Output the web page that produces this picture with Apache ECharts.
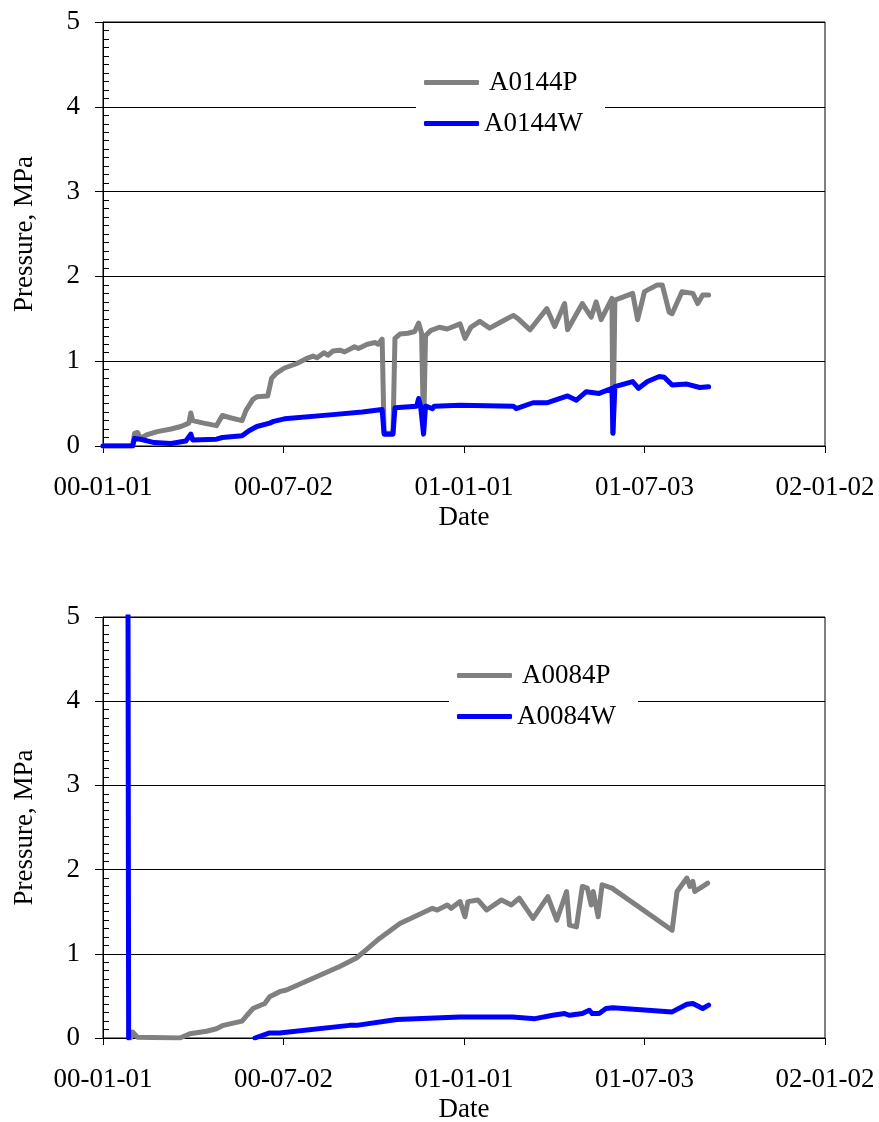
<!DOCTYPE html>
<html>
<head>
<meta charset="utf-8">
<script src="https://cdn.jsdelivr.net/npm/echarts@6/dist/echarts.min.js"></script>
<style>
html,body{margin:0;padding:0;background:#fff;}
#chart{width:879px;height:1122px;}
</style>
</head>
<body>
<div id="chart"></div>
<script>
// ---------- DATA ----------
const xTickLabels = ['00-01-01','00-07-02','01-01-01','01-07-03','02-01-02'];
const yTickValues = [0,1,2,3,4,5];

const topPName = 'A0144P';
const topWName = 'A0144W';
const botPName = 'A0084P';
const botWName = 'A0084W';

const topPDates = ['2000-01-01','2000-01-31','2000-02-02','2000-02-05','2000-02-08','2000-02-14','2000-02-25','2000-03-10','2000-03-20','2000-03-28','2000-03-30','2000-04-01','2000-04-12','2000-04-25','2000-05-01','2000-05-10','2000-05-21','2000-05-25','2000-06-01','2000-06-05','2000-06-16','2000-06-20','2000-06-25','2000-07-03','2000-07-15','2000-07-25','2000-08-01','2000-08-05','2000-08-12','2000-08-16','2000-08-21','2000-08-28','2000-09-02','2000-09-12','2000-09-16','2000-09-25','2000-10-03','2000-10-06','2000-10-10','2000-10-12','2000-10-21','2000-10-23','2000-10-28','2000-11-05','2000-11-12','2000-11-16','2000-11-19','2000-11-21','2000-11-23','2000-11-28','2000-12-07','2000-12-15','2000-12-28','2001-01-02','2001-01-08','2001-01-17','2001-01-27','2001-02-07','2001-02-20','2001-02-25','2001-03-09','2001-03-26','2001-04-03','2001-04-13','2001-04-16','2001-05-01','2001-05-10','2001-05-15','2001-05-20','2001-05-31','2001-06-01','2001-06-03','2001-06-05','2001-06-21','2001-06-26','2001-07-03','2001-07-16','2001-07-21','2001-07-28','2001-07-31','2001-08-10','2001-08-21','2001-08-26','2001-08-31','2001-09-06'];
const topPValues = [0,0,0.15,0.16,0.09,0.13,0.17,0.2,0.23,0.27,0.39,0.3,0.27,0.24,0.36,0.33,0.3,0.42,0.55,0.58,0.59,0.8,0.86,0.92,0.97,1.03,1.06,1.04,1.1,1.07,1.12,1.13,1.11,1.17,1.15,1.2,1.22,1.2,1.26,0.15,0.15,1.27,1.32,1.33,1.35,1.45,1.33,0.15,1.3,1.36,1.4,1.38,1.44,1.27,1.4,1.47,1.39,1.46,1.54,1.5,1.37,1.62,1.41,1.68,1.37,1.68,1.52,1.7,1.49,1.74,0.15,1.72,1.74,1.8,1.49,1.82,1.9,1.9,1.58,1.56,1.82,1.8,1.68,1.78,1.78];

const topWDates = ['2000-01-01','2000-01-31','2000-02-02','2000-02-08','2000-02-22','2000-03-10','2000-03-25','2000-03-30','2000-04-01','2000-04-25','2000-05-01','2000-05-21','2000-05-28','2000-06-05','2000-06-18','2000-06-22','2000-07-03','2000-08-21','2000-09-20','2000-10-10','2000-10-12','2000-10-21','2000-10-23','2000-11-14','2000-11-16','2000-11-18','2000-11-21','2000-11-23','2000-11-30','2000-12-02','2000-12-28','2001-02-20','2001-02-23','2001-03-12','2001-03-26','2001-04-16','2001-04-25','2001-05-05','2001-05-18','2001-05-31','2001-06-01','2001-06-03','2001-06-21','2001-06-27','2001-07-06','2001-07-18','2001-07-23','2001-07-31','2001-08-15','2001-08-28','2001-09-06'];
const topWValues = [0,0,0.09,0.08,0.04,0.03,0.06,0.14,0.07,0.08,0.1,0.12,0.18,0.23,0.27,0.29,0.32,0.37,0.4,0.43,0.14,0.14,0.45,0.47,0.56,0.47,0.14,0.47,0.44,0.47,0.48,0.47,0.44,0.51,0.51,0.59,0.54,0.64,0.62,0.68,0.15,0.7,0.76,0.68,0.76,0.82,0.81,0.72,0.73,0.69,0.7];

const botPDates = ['2000-01-29','2000-01-31','2000-02-05','2000-03-19','2000-03-29','2000-04-15','2000-04-25','2000-05-02','2000-05-21','2000-05-26','2000-06-01','2000-06-13','2000-06-18','2000-06-28','2000-07-05','2000-08-28','2000-09-14','2000-09-24','2000-10-07','2000-10-28','2000-11-30','2000-12-05','2000-12-15','2000-12-19','2000-12-28','2001-01-02','2001-01-05','2001-01-15','2001-01-24','2001-02-08','2001-02-18','2001-02-26','2001-03-12','2001-03-27','2001-04-05','2001-04-15','2001-04-18','2001-04-25','2001-05-01','2001-05-06','2001-05-10','2001-05-12','2001-05-17','2001-05-21','2001-05-31','2001-07-31','2001-08-05','2001-08-15','2001-08-18','2001-08-21','2001-08-23','2001-08-31','2001-09-05'];
const botPValues = [0,0.07,0.01,0,0.05,0.08,0.11,0.15,0.2,0.27,0.35,0.41,0.49,0.55,0.57,0.85,0.95,1.05,1.18,1.36,1.54,1.52,1.58,1.54,1.62,1.44,1.62,1.64,1.52,1.64,1.58,1.66,1.42,1.68,1.4,1.74,1.34,1.32,1.8,1.78,1.58,1.74,1.44,1.82,1.78,1.28,1.74,1.9,1.8,1.86,1.74,1.8,1.84];

const botWDates = ['2000-01-26','2000-01-27','2000-01-28','2000-06-03','2000-06-18','2000-06-28','2000-06-30','2000-09-07','2000-09-14','2000-10-25','2000-12-28','2001-02-19','2001-03-14','2001-04-01','2001-04-13','2001-04-18','2001-05-01','2001-05-08','2001-05-11','2001-05-18','2001-05-25','2001-06-01','2001-07-31','2001-08-15','2001-08-21','2001-08-31','2001-09-06'];
const botWValues = [8,0,null,0,0.06,0.06,0.05,0.15,0.15,0.22,0.25,0.25,0.23,0.27,0.29,0.27,0.29,0.33,0.29,0.29,0.35,0.36,0.31,0.40,0.41,0.35,0.39];

// ---------- HELPERS ----------
const DAY = 86400000;
const ORIGIN = Date.UTC(2000,0,1);
function dayOf(s){const p=s.split('-').map(Number);return (Date.UTC(p[0],p[1]-1,p[2])-ORIGIN)/DAY;}
function pairs(dates, vals){return dates.map((d,i)=>[dayOf(d), vals[i]===null?'-':vals[i]]);}
const xMin = dayOf('2000-01-01');
const xMax = dayOf('2002-01-02');
const xInterval = (xMax - xMin)/ (xTickLabels.length-1);
function fmtDate(v){
  const d=new Date(ORIGIN+v*DAY);
  const p=n=>String(n).padStart(2,'0');
  return p(d.getUTCFullYear()%100)+'-'+p(d.getUTCMonth()+1)+'-'+p(d.getUTCDate());
}

const FONT = '"Liberation Serif","Times New Roman",serif';
const FS = 27;
const GRAY = '#808080', BLUE = '#0000ff';

function xAxisFor(gi){
  return {
    type:'value', gridIndex:gi, min:xMin, max:xMax, interval:xInterval,
    name:'Date', nameLocation:'middle', nameGap:58,
    nameTextStyle:{fontFamily:FONT,fontSize:FS,color:'#000'},
    axisLine:{show:true,lineStyle:{color:'#000',width:1}},
    axisTick:{show:true,length:7,lineStyle:{color:'#000'}},
    axisLabel:{fontFamily:FONT,fontSize:FS,color:'#000',margin:28,formatter:v=>fmtDate(v)},
    splitLine:{show:false}
  };
}
function yAxesFor(gi){
  return [{
    type:'value', gridIndex:gi, min:yTickValues[0], max:yTickValues[yTickValues.length-1], interval:1,
    name:'Pressure, MPa', nameLocation:'middle', nameGap:65, nameRotate:90,
    nameTextStyle:{fontFamily:FONT,fontSize:FS,color:'#000'},
    axisLine:{show:true,lineStyle:{color:'#000',width:1}},
    axisTick:{show:true,length:8,lineStyle:{color:'#000'}},
    axisLabel:{fontFamily:FONT,fontSize:FS,color:'#000',margin:23},
    splitLine:{show:true,lineStyle:{color:'#000',width:1}}
  },{
    type:'value', gridIndex:gi, min:0, max:5, interval:1, position:'left',
    axisLine:{show:false}, axisLabel:{show:false},
    axisTick:{show:false,inside:true},
    minorTick:{show:true,splitNumber:10,length:6,lineStyle:{color:'#000'}},
    splitLine:{show:false}
  }];
}
function legendFor(name, left, top, pad, textPadLeft){
  return {
    data:[{name:name, icon:'roundRect'}], left:left, top:top, orient:'vertical', padding:pad,
    backgroundColor:'#fff', itemWidth:55, itemHeight:5, itemGap:0,
    textStyle:{fontFamily:FONT,fontSize:FS,color:'#000',padding:[0,0,0,textPadLeft]}
  };
}
function lineSeries(name, data, color, xi, yi){
  return {name:name,type:'line',xAxisIndex:xi,yAxisIndex:yi,data:data,
    symbol:'none',showSymbol:false,connectNulls:false,clip:true,
    lineStyle:{color:color,width:5,cap:'round',join:'round'},itemStyle:{color:color},emphasis:{disabled:true}};
}

const chart = echarts.init(document.getElementById('chart'), null, {renderer:'canvas'});
const y0 = yAxesFor(0), y1 = yAxesFor(1);
chart.setOption({
  animation:false,
  backgroundColor:'#fff',
  grid:[
    {left:103,right:54,top:22,height:424,show:true,borderColor:'#000',borderWidth:1,backgroundColor:'transparent',outerBoundsMode:'none'},
    {left:103,right:54,top:617,height:421,show:true,borderColor:'#000',borderWidth:1,backgroundColor:'transparent',outerBoundsMode:'none'}
  ],
  xAxis:[xAxisFor(0), xAxisFor(1)],
  yAxis:[y0[0], y0[1], y1[0], y1[1]],
  legend:[
    legendFor(topPName, 416, 62, [7,23,14,8], 5),
    legendFor(topWName, 416, 103, [7,22,12,8], 0),
    legendFor(botPName, 449, 655, [7,23,14,8], 5),
    legendFor(botWName, 449, 696, [7,22,12,8], 0)
  ],
  series:[
    lineSeries(topPName, pairs(topPDates, topPValues), GRAY, 0, 0),
    lineSeries(topWName, pairs(topWDates, topWValues), BLUE, 0, 0),
    lineSeries(botPName, pairs(botPDates, botPValues), GRAY, 1, 2),
    lineSeries(botWName, pairs(botWDates, botWValues), BLUE, 1, 2)
  ]
});
</script>
</body>
</html>
